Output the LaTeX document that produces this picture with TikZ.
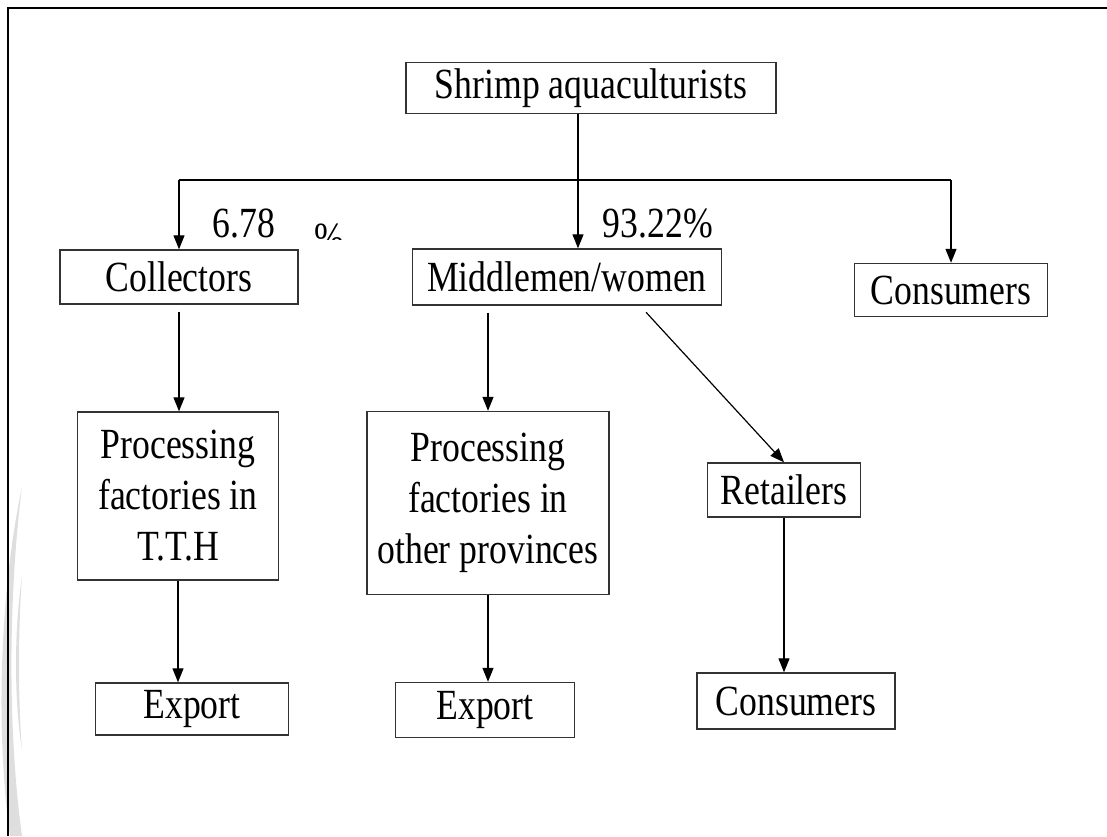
\documentclass[tikz,border=0pt]{standalone}
\usepackage{fontspec}
\setmainfont[FakeStretch=0.83]{Liberation Serif}
\usetikzlibrary{arrows.meta}

\begin{document}
\begin{tikzpicture}[x=1pt,y=-1pt]
  \tikzstyle{every node}=[font=\fontsize{43}{51}\selectfont]
  \tikzstyle{box}=[draw=black!80,line width=1.4pt,inner sep=0pt,align=center]
  \tikzstyle{flow}=[line width=1.2pt,-{Triangle[length=14pt,width=11pt]}]
 \useasboundingbox (0,0) rectangle (1107,836);

 % grey strips at the left edge
 \fill[black!13] (22,487) .. controls (2,580) and (-6,720) .. (10,836)
   -- (22,836) .. controls (6,720) and (10,580) .. (22,487);
 \fill[black!13] (22,577) .. controls (14,630) and (14,700) .. (22,750)
   .. controls (18,700) and (18,630) .. (22,577);
 \draw[line width=2.7pt] (8,836) -- (8,8) -- (1107,8);

 \node[box,minimum width=370pt,minimum height=51pt] (shrimp) at (591,88) {Shrimp aquaculturists};
 \node[box,minimum width=238pt,minimum height=54pt] (coll) at (179,277) {Collectors};
 \node[box,minimum width=309pt,minimum height=56pt] (mid) at (567,277) {Middlemen/women};
 \node[box,minimum width=193pt,minimum height=53pt] (cons1) at (951,290) {Consumers};
 \node[box,minimum width=201pt,minimum height=168pt] (proc1) at (178,496) {Processing\\factories in\\T.T.H};
 \node[box,minimum width=242pt,minimum height=183pt] (proc2) at (488,503) {Processing\\factories in\\other provinces};
 \node[box,minimum width=153pt,minimum height=54pt] (retail) at (784,490) {Retailers};
 \node[box,minimum width=198pt,minimum height=56pt] (cons2) at (796,701) {Consumers};
 \node[box,minimum width=193pt,minimum height=52pt] (exp1) at (192,709) {Export};
 \node[box,minimum width=179pt,minimum height=55pt] (exp2) at (485,710) {Export};

 \node[anchor=base,inner sep=0pt] (p1) at (244,237) {6.78};
 \begin{scope}
  \clip (300,200) rectangle (360,239);
  \node[anchor=base,inner sep=0pt] (p1b) at (329,252) {\%};
 \end{scope}
 \node[anchor=base,inner sep=0pt] (p2) at (658,237) {93.22\%};

 \coordinate (split) at (578,180);
 \draw[line width=1.2pt] (shrimp.south -| split) -- (split);
 \draw[line width=1.2pt] (coll.north |- split) -- (cons1.north |- split);
 \draw [flow] (coll.north |- split) -- (coll.north);
 \draw [flow] (split) -- (split |- mid.north);
 \draw [flow] (cons1.north |- split) -- (cons1.north);
 \draw [flow,shorten <=7pt] (coll.south) -- (coll.south |- proc1.north);
 \draw [flow,shorten <=7pt] (mid.south -| proc2.north) -- (proc2.north);
 \draw [flow,shorten <=9pt] ([xshift=73pt]mid.south) -- (retail.north);
 \draw [flow] (proc1.south) -- (proc1.south |- exp1.north);
 \draw [flow] (proc2.south) -- (proc2.south |- exp2.north);
 \draw [flow] (retail.south) -- (retail.south |- cons2.north);

\end{tikzpicture}
\end{document}
